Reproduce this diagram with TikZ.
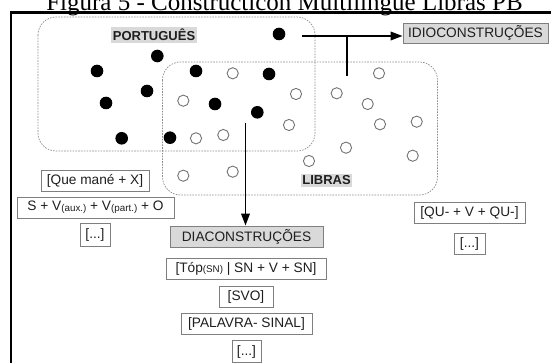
\documentclass[tikz,border=0pt]{standalone}
\usepackage{fontspec}
\newfontfamily\labfont{Liberation Sans}
\newfontfamily\titlefont{Liberation Serif}
\usetikzlibrary{arrows.meta}
\newcommand{\smallsub}[1]{\raisebox{-0.8pt}{\fontsize{9.8}{10}\selectfont #1}}
\definecolor{boxgray}{HTML}{D9D9D9}
\definecolor{edgegray}{HTML}{7F7F7F}
\begin{document}
\begin{tikzpicture}[x=1pt,y=-1pt,
  cbox/.style={draw=edgegray, line width=0.8pt, fill=white, inner sep=0pt,
     minimum height=21pt, font=\labfont\fontsize{13.7}{15}\selectfont, text=black!88},
  gbox/.style={cbox, fill=boxgray},
  hilite/.style={fill=boxgray, inner xsep=1.5pt, inner ysep=2pt,
     font=\labfont\bfseries\fontsize{13}{15}\selectfont, text=black!88},
  region/.style={draw=gray!90, line width=0.7pt, dash pattern=on 1.6pt off 1.2pt, rounded corners=18pt},
  bdot/.style={fill=black},
  odot/.style={draw=gray!90!black, line width=0.9pt, fill=white},
  conn/.style={line width=1.9pt},
  arr/.style={conn, -{Triangle[length=12pt,width=8.5pt]}}
]
\useasboundingbox (0,0) rectangle (551,363);

% title (partly cut off at top, as in the reference)
\node[anchor=base, inner sep=0pt, font=\titlefont\fontsize{25}{28}\selectfont] (title) at (284.5,10.5)
  {Figura 5 - Constructicon Multilíngue Libras PB};

% frame
\draw[line width=2.6pt] (11,420) -- (11,12.8) -- (620,12.8);

% regions
\draw[region] (38,17) rectangle (315,151);
\draw[region] (162.5,62) rectangle (437.5,195);

% black dots
\foreach \x/\y in {279/34, 157.3/56, 97/71, 147/91, 106/103, 121.7/138.3, 170/137.7,
                   196/71, 215/104, 257.3/112.3, 269/74}
  \fill[bdot] (\x,\y) circle (6.3);

% open dots
\foreach \x/\y in {232.7/73.3, 183.3/100.7, 196/138.3, 223.3/135, 183.3/175.7, 232.7/171.7,
                   379/73.3, 296/94, 336.7/93.3, 367.7/104, 289/125, 380/124.3,
                   416.7/121.7, 346/147.7, 309/161, 412.7/155.7}
  \draw[odot] (\x,\y) circle (5.6);

% labels of regions
\node[hilite] (port) at (154,35) {PORTUGUÊS};
\node[hilite] (libras) at (326.5,180.5) {LIBRAS};

% boxes
\node[gbox, minimum width=145pt, minimum height=20pt] (idio) at (475.5,33) {IDIOCONSTRUÇÕES};
\node[cbox, minimum width=108pt] (que) at (95,180.5) {[Que mané + X]};
\node[cbox, minimum width=157pt] (svaux) at (95.5,207.5) {S + V\smallsub{(aux.)} + V\smallsub{(part.)} + O};
\node[cbox, minimum width=30pt, minimum height=23pt] (etc1) at (95,234.5) {[...]};
\node[gbox, minimum width=153pt] (dia) at (246.5,236.5) {DIACONSTRUÇÕES};
\node[cbox, minimum width=160pt] (top) at (246,268.5) {[Tóp\smallsub{(SN)} | SN + V + SN]};
\node[cbox, minimum width=54pt] (svo) at (246,296.5) {[SVO]};
\node[cbox, minimum width=131pt] (pal) at (246.5,323.5) {[PALAVRA- SINAL]};
\node[cbox, minimum width=29pt, minimum height=22pt] (etc2) at (246.5,351.5) {[...]};
\node[cbox, minimum width=111pt] (qu) at (469.5,212.5) {[QU- + V + QU-]};
\node[cbox, minimum width=31pt] (etc3) at (469.5,243.5) {[...]};

% connectors
\coordinate (hstart) at (302,36);
\coordinate (branchtop) at (346.7,36);
\coordinate (branchbot) at (346.7,76.5);
\coordinate (vstart) at (245.5,123);
\draw[arr] (hstart) -- (hstart -| idio.west);
\draw[conn] (branchtop) -- (branchbot);
\draw[arr] (vstart) -- (vstart |- dia.north);
\end{tikzpicture}
\end{document}
